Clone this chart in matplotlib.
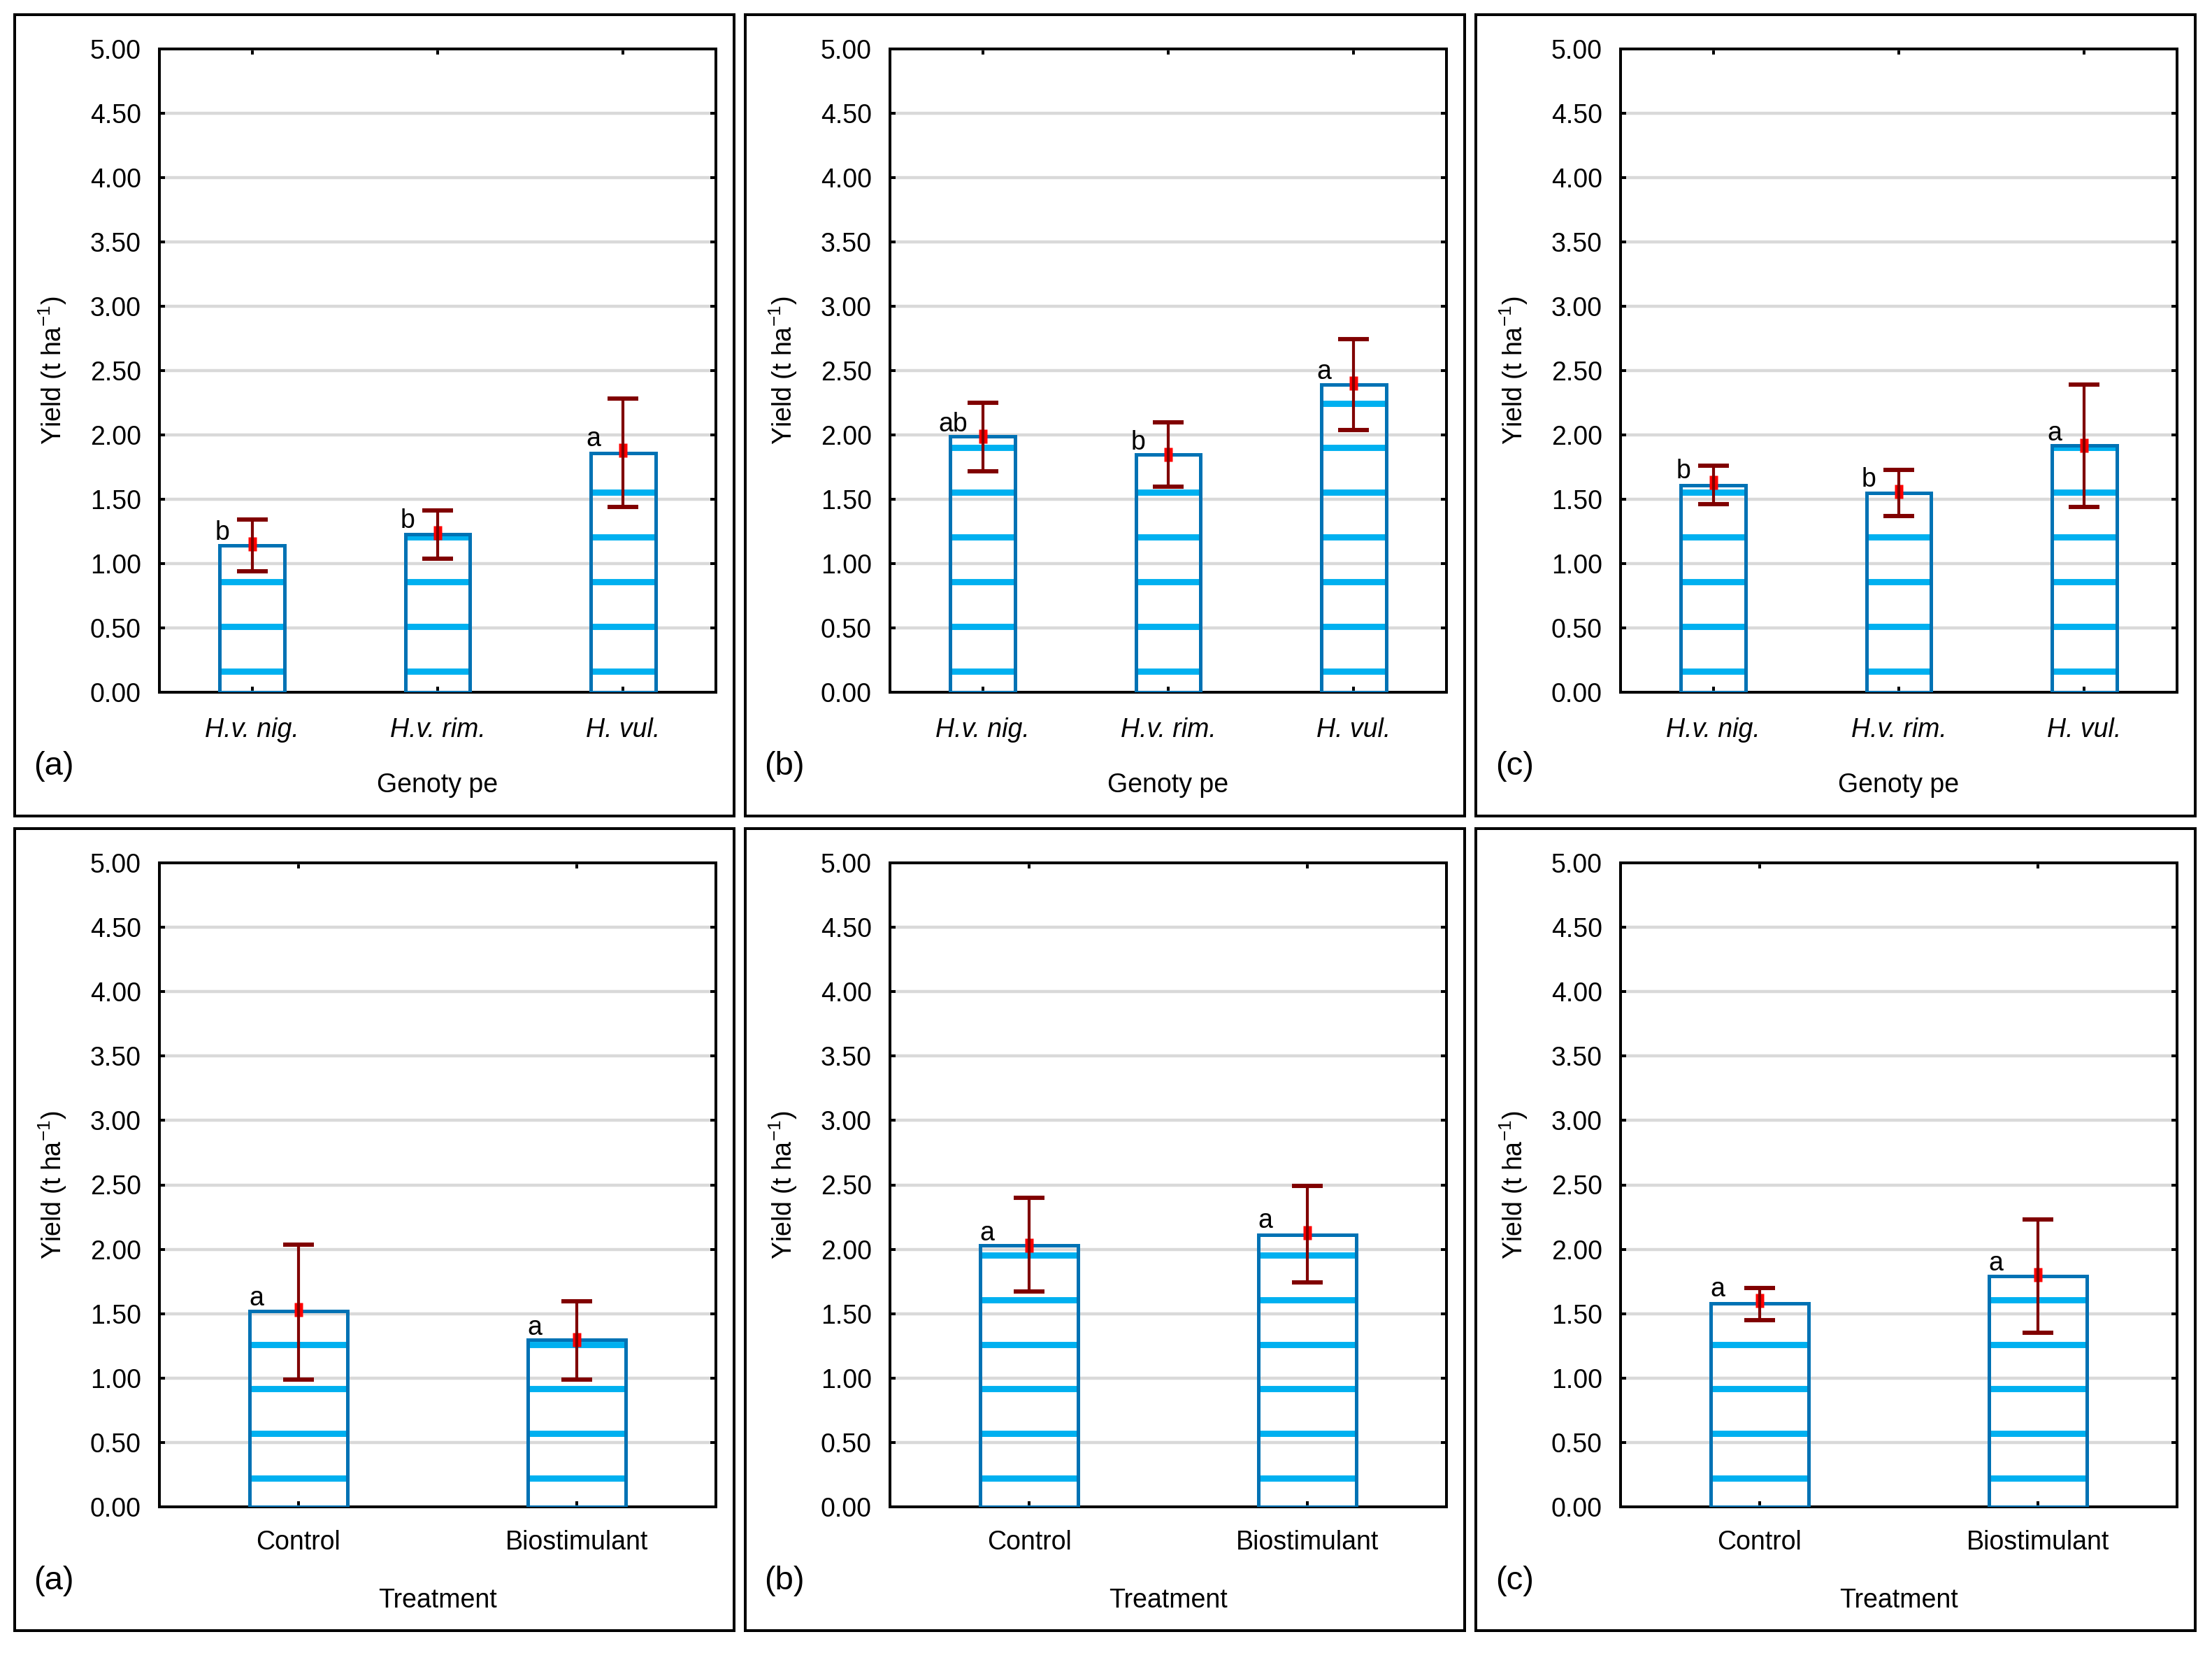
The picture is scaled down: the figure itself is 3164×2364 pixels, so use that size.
import matplotlib
matplotlib.use("Agg")
import matplotlib.pyplot as plt
from matplotlib.patches import Rectangle
from matplotlib.collections import LineCollection
import numpy as np

plt.rcParams['font.family'] = ['Liberation Sans', 'DejaVu Sans']
plt.rcParams['mathtext.fontset'] = 'custom'
plt.rcParams['mathtext.rm'] = 'Liberation Sans'
plt.rcParams['mathtext.it'] = 'Liberation Sans:italic'
plt.rcParams['mathtext.bf'] = 'Liberation Sans:bold'

# ---------------- data ----------------
genotypes = ['H.v. nig.', 'H.v. rim.', 'H. vul.']
treatments = ['Control', 'Biostimulant']
panel_labels = ['(a)', '(b)', '(c)']
y_ticks = [0.0, 0.5, 1.0, 1.5, 2.0, 2.5, 3.0, 3.5, 4.0, 4.5, 5.0]

geno_bar = [[1.14, 1.23, 1.86], [1.99, 1.85, 2.39], [1.61, 1.55, 1.92]]
geno_mean = [[1.15, 1.24, 1.88], [1.99, 1.85, 2.40], [1.63, 1.56, 1.92]]
geno_low = [[0.94, 1.04, 1.44], [1.72, 1.60, 2.04], [1.46, 1.37, 1.44]]
geno_high = [[1.34, 1.415, 2.28], [2.25, 2.10, 2.745], [1.76, 1.73, 2.39]]
geno_letters = [['b', 'b', 'a'], ['ab', 'b', 'a'], ['b', 'b', 'a']]

treat_bar = [[1.52, 1.295], [2.03, 2.11], [1.58, 1.79]]
treat_mean = [[1.53, 1.30], [2.03, 2.13], [1.60, 1.80]]
treat_low = [[0.99, 0.99], [1.67, 1.74], [1.45, 1.35]]
treat_high = [[2.035, 1.595], [2.40, 2.49], [1.70, 2.23]]
treat_letters = [['a', 'a'], ['a', 'a'], ['a', 'a']]

# ---------------- style ----------------
EDGE = '#0072B4'
HATCH = '#00B0F0'
ERR = '#800000'
GRID = '#D9D9D9'
HATCH_STEP = 0.347
FS = 13.5

W, H = 3164, 2364
fig = plt.figure(figsize=(W / 200, H / 200), dpi=200)

ax_lefts = [228, 1273, 2318]
ax_w = 796
rows = [(70, 990), (1234, 2155)]

rect_marker = [(-0.33, -0.5), (0.33, -0.5), (0.33, 0.5), (-0.33, 0.5), (-0.33, -0.5)]


def draw(ax, cats, bars, means, lows, highs, letters, hatch_start, italic, xlabel, plabel,
         letter_dx, xpad):
    x = np.arange(len(cats))
    means = np.array(means)
    ax.set_xlim(-0.5, len(cats) - 0.5)
    ax.set_ylim(0, 5)
    ax.set_yticks(y_ticks)
    ax.set_yticklabels(['%.2f' % v for v in y_ticks])
    ax.set_xticks(x)
    ax.set_xticklabels(cats, style='italic' if italic else 'normal')
    ax.yaxis.grid(True, color=GRID, lw=1.6)
    ax.set_axisbelow(True)
    rects = ax.bar(x, bars, 0.35, facecolor='none', edgecolor=EDGE, lw=1.8, zorder=4)
    for r in rects:
        levels = np.arange(hatch_start, r.get_height(), HATCH_STEP)
        segs = [[(r.get_x(), y), (r.get_x() + r.get_width(), y)] for y in levels]
        lc = LineCollection(segs, colors=HATCH, linewidths=3.2, zorder=3)
        ax.add_collection(lc)
        lc.set_clip_path(r)
    yerr = [means - np.array(lows), np.array(highs) - means]
    ax.plot(x, means, ls='none', marker=rect_marker, ms=7, color='#FF0000', mec='none', zorder=5)
    ax.errorbar(x, means, yerr=yerr, fmt='none', ecolor=ERR, elinewidth=1.5,
                capsize=8, capthick=2.2, zorder=6)
    for xi, m, t in zip(x, means, letters):
        ax.text(xi - letter_dx, m + 0.09, t, ha='center', va='center', fontsize=FS, zorder=7)
    for s in ax.spines.values():
        s.set_linewidth(1.44)
    ax.tick_params(direction='in', length=2.9, width=1.44, top=True, right=True,
                   labelsize=FS)
    ax.tick_params(axis='y', pad=9.4)
    ax.tick_params(axis='x', pad=xpad)
    ax.set_ylabel('Yield (t ha$^{-1}$)', fontsize=FS)
    ax.yaxis.set_label_coords(-0.192, 0.5)
    ax.yaxis.label.set_va('center')
    ax.set_xlabel(xlabel, fontsize=FS)
    ax.xaxis.set_label_coords(0.5, -0.145)
    ax.xaxis.label.set_va('center')
    ax.text(-0.19, -0.115, plabel, transform=ax.transAxes, ha='center', va='center', fontsize=17)


for r, (top, bot) in enumerate(rows):
    for c, left in enumerate(ax_lefts):
        ax = fig.add_axes([left / W, 1 - bot / H, ax_w / W, (bot - top) / H])
        frame = Rectangle(((left - 207) / W, 1 - (bot + 177) / H), 1029 / W,
                          (bot - top + 49 + 177) / H, fill=False, lw=1.44,
                          edgecolor='black', transform=fig.transFigure)
        fig.add_artist(frame)
        if r == 0:
            draw(ax, genotypes, geno_bar[c], geno_mean[c], geno_low[c], geno_high[c],
                 geno_letters[c], 0.165, True, 'Genoty pe', panel_labels[c], 0.16, 13)
        else:
            draw(ax, treatments, treat_bar[c], treat_mean[c], treat_low[c], treat_high[c],
                 treat_letters[c], 0.221, False, 'Treatment', panel_labels[c], 0.15, 12)

fig.savefig('out.png', dpi=200, facecolor='white')
